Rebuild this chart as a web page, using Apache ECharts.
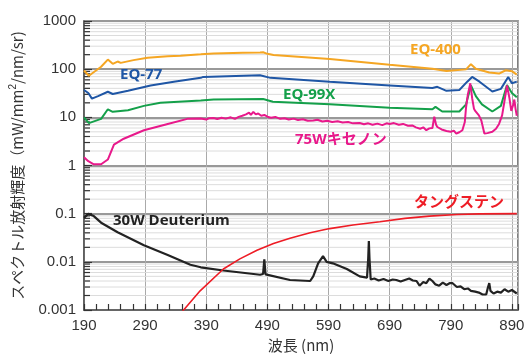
<!DOCTYPE html>
<html>
<head>
<meta charset="utf-8">
<script src="https://cdn.jsdelivr.net/npm/echarts@6/dist/echarts.min.js"></script>
<style>
html,body{margin:0;padding:0;background:#fff;}
#chart{width:528px;height:358px;}
</style>
</head>
<body>
<div id="chart"></div>
<script>
// 波長(nm), 放射輝度
var eq400 = [[190,94],[198,73],[218,112],[229,158],[237,129],[245,144],[250,135],[271,154],[294,173],[327,185],[348,190],[381,203],[402,212],[450,218],[478,222],[483,224],[490,208],[500,196],[592,163],[690,123],[760,102],[783,92],[815,99],[823,127],[831,102],[853,85],[869,81],[880,95],[890,91],[898,77]];
var eq77 = [[190,37],[197,32],[203,24.5],[213,27.5],[229,34],[237,30.5],[262,35.5],[299,46],[337,55],[381,66],[385,69],[478,75],[495,66],[592,55],[690,46],[760,40.5],[768,43],[783,35.5],[804,37],[817,55],[825,69],[837,55],[858,34.5],[872,39],[884,69],[890,51],[898,55]];
var eq99x = [[190,10],[198,7.6],[218,9.3],[229,14.7],[237,13],[262,14],[288,17.3],[315,20],[381,22.3],[402,23.4],[483,24],[499,21],[592,18.6],[690,15.9],[760,14.7],[765,16.5],[776,13.2],[804,13.2],[815,18.6],[823,46],[831,27.5],[841,18.6],[858,13.2],[872,17.3],[882,47],[890,32],[898,26]];
var xenon75 = [[190,1.48],[197,1.23],[206,1.06],[218,1.06],[229,1.33],[239,2.7],[255,3.6],[288,5.4],[327,7.3],[359,9.3],[381,9.5],[390,9.0],[395,9.6],[402,9.7],[408,9.2],[415,9.8],[422,9.4],[430,10.0],[437,9.3],[443,10.2],[449,10.8],[455,11.5],[460,12.5],[463,11.2],[467,13.0],[471,11.5],[475,12.0],[480,10.8],[485,11.2],[490,10.3],[496,9.8],[503,10.2],[511,9.3],[518,9.6],[525,9.0],[533,9.4],[540,8.8],[548,9.1],[556,8.5],[565,8.6],[572,8.9],[580,8.2],[588,8.5],[596,8.0],[605,8.3],[613,7.8],[622,8.0],[630,7.5],[641,7.6],[648,7.2],[655,7.5],[662,7.0],[670,7.4],[678,6.9],[685,7.5],[690,7.3],[697,7.6],[705,7.0],[712,7.3],[720,6.7],[727,6.8],[733,6.2],[740,5.8],[745,6.2],[750,5.4],[755,5.9],[760,6.0],[763,10.3],[766,7.0],[768,6.3],[775,5.6],[783,5.2],[790,5.0],[795,5.3],[799,4.6],[804,4.9],[809,5.4],[813,8],[815,16],[818,30],[822,51],[825,25],[828,15],[830,13.6],[833,14.7],[836,11],[840,8.6],[845,4.6],[850,4.7],[858,5.0],[864,5.8],[869,7.3],[874,11],[877,18.6],[882,46],[886,25],[889,13.6],[892,18],[894,23.4],[896,15],[898,10.8]];
var deut30 = [[190,0.082],[197,0.099],[206,0.089],[218,0.065],[245,0.041],[288,0.022],[327,0.0138],[364,0.0087],[376,0.0080],[381,0.0077],[418,0.0066],[478,0.0054],[483,0.0056],[485,0.0112],[487,0.0055],[490,0.0054],[527,0.0042],[560,0.0040],[565,0.0050],[573,0.0093],[581,0.0131],[587,0.0100],[597,0.0093],[620,0.0071],[641,0.0050],[653,0.0047],[655,0.012],[656,0.027],[657,0.012],[659,0.0043],[665,0.0045],[672,0.0041],[680,0.0044],[688,0.0040],[695,0.0043],[701,0.0042],[708,0.0039],[715,0.0042],[722,0.0045],[728,0.0041],[734,0.0040],[739,0.0032],[745,0.0038],[750,0.0036],[755,0.0045],[760,0.0040],[765,0.0034],[771,0.0032],[777,0.0037],[783,0.0033],[788,0.0036],[793,0.0036],[800,0.0030],[806,0.0031],[812,0.0027],[818,0.0028],[823,0.0025],[830,0.0024],[836,0.0023],[842,0.0021],[848,0.0021],[851,0.0030],[853,0.0036],[855,0.0025],[860,0.0022],[866,0.0024],[872,0.0023],[878,0.0027],[884,0.0024],[890,0.0026],[898,0.0022]];
var tungsten = [[340,0.0006],[353,0.001],[380,0.0025],[418,0.0071],[445,0.0115],[473,0.0174],[500,0.024],[527,0.031],[560,0.040],[592,0.049],[630,0.058],[674,0.068],[715,0.080],[755,0.089],[800,0.096],[837,0.099],[898,0.1]];

var labelTexts = ['EQ-400','EQ-77','EQ-99X','75Wキセノン','30W Deuterium','タングステン'];
var xTicks = [190,290,390,490,590,690,790,890];
var minorVals = [];
for (var k = -3; k < 3; k++) {
	for (var m = 2; m <= 9; m++) {
		minorVals.push(m * Math.pow(10, k));
	}
}

var myChart = echarts.init(document.getElementById('chart'));
var labelFont = "'Open Sans','Noto Sans CJK JP',sans-serif";
function lineSeries(name, data, color, width) {
	return {
		name: name,
		type: 'line',
		data: data,
		showSymbol: false,
		smooth: false,
		z: 5,
		lineStyle: {color: color, width: width},
		itemStyle: {color: color}
	};
}
var option = {
	animation: false,
	grid: {
		left: 83, right: 10, top: 21, bottom: 40,
		show: true, borderColor: '#555', borderWidth: 1.5
	},
	xAxis: {
		type: 'value',
		min: 190,
		max: 900,
		interval: 100,
		name: '波長 (nm)',
		nameLocation: 'middle',
		nameGap: 28,
		nameTextStyle: {fontFamily: "'Noto Sans CJK JP','Liberation Sans',sans-serif", fontSize: 15, color: '#333'},
		axisLine: {show: true, lineStyle: {color: '#555', width: 1.5}},
		axisTick: {show: true, inside: true, length: 6, lineStyle: {color: '#333', width: 1.2}},
		minorTick: {show: true, splitNumber: 5, length: 6, lineStyle: {color: '#333', width: 1.2}},
		axisLabel: {
			fontFamily: "'Liberation Sans',sans-serif", fontSize: 15, color: '#333', margin: 8,
			formatter: function (v) { return xTicks.indexOf(v) >= 0 ? String(v) : ''; }
		},
		splitLine: {show: true, lineStyle: {color: '#aaa', width: 1}}
	},
	yAxis: {
		type: 'log',
		logBase: 10,
		min: 0.001,
		max: 1000,
		name: '{a|スペクトル放射輝度（mW/mm}{s|2}{a|/nm/sr)}',
		nameLocation: 'middle',
		nameRotate: 90,
		nameGap: 58,
		nameTextStyle: {
			rich: {
				a: {fontFamily: "'Noto Sans CJK JP','Liberation Sans',sans-serif", fontSize: 15, color: '#333'},
				s: {fontFamily: "'Liberation Sans',sans-serif", fontSize: 10, color: '#333', verticalAlign: 'top', padding: [0, 0, 8, 0]}
			}
		},
		axisLine: {show: true, lineStyle: {color: '#555', width: 1.5}},
		axisTick: {show: true, inside: true, length: 8, lineStyle: {color: '#333', width: 1.2}},
		axisLabel: {
			fontFamily: "'Liberation Sans',sans-serif", fontSize: 15, color: '#333', margin: 8,
			formatter: function (v) { return String(+v.toPrecision(3)); }
		},
		splitLine: {show: true, lineStyle: {color: '#999', width: 2}}
	},
	graphic: [
		{type: 'text', z: 100, left: 410, top: 42, style: {text: labelTexts[0], fill: '#f5a623', font: 'bold 15px ' + labelFont}},
		{type: 'text', z: 100, left: 120, top: 67, style: {text: labelTexts[1], fill: '#1f56a5', font: 'bold 15px ' + labelFont}},
		{type: 'text', z: 100, left: 283, top: 87, style: {text: labelTexts[2], fill: '#14a04a', font: 'bold 15px ' + labelFont}},
		{type: 'text', z: 100, left: 295, top: 132, style: {text: labelTexts[3], fill: '#e8198b', font: 'bold 15px ' + labelFont}},
		{type: 'text', z: 100, left: 113, top: 213, style: {text: labelTexts[4], fill: '#222', font: 'bold 15px ' + labelFont}},
		{type: 'text', z: 100, left: 414, top: 195, style: {text: labelTexts[5], fill: '#ee1c25', font: 'bold 15px ' + labelFont}}
	],
	series: [
		{
			// 細かい補助線と左軸の小目盛
			type: 'custom', silent: true, z: 1,
			data: minorVals,
			renderItem: function (params, api) {
				var p = api.coord([190, api.value(0)]);
				var q = api.coord([900, api.value(0)]);
				return {
					type: 'group',
					children: [
						{type: 'line', shape: {x1: p[0], y1: p[1], x2: q[0], y2: q[1]}, style: {stroke: '#dcdcdc', lineWidth: 1}},
						{type: 'line', shape: {x1: p[0], y1: p[1], x2: p[0] + 6, y2: p[1]}, style: {stroke: '#333', lineWidth: 1.2}}
					]
				};
			},
			encode: {y: 0}
		},
		lineSeries('EQ-400', eq400, '#f5a623', 2),
		lineSeries('EQ-77', eq77, '#1f56a5', 2),
		lineSeries('EQ-99X', eq99x, '#14a04a', 2),
		lineSeries('75Wキセノン', xenon75, '#e8198b', 2),
		lineSeries('30W Deuterium', deut30, '#222', 2.2),
		lineSeries('タングステン', tungsten, '#ee1c25', 1.6)
	]
};
myChart.setOption(option);
</script>
</body>
</html>
